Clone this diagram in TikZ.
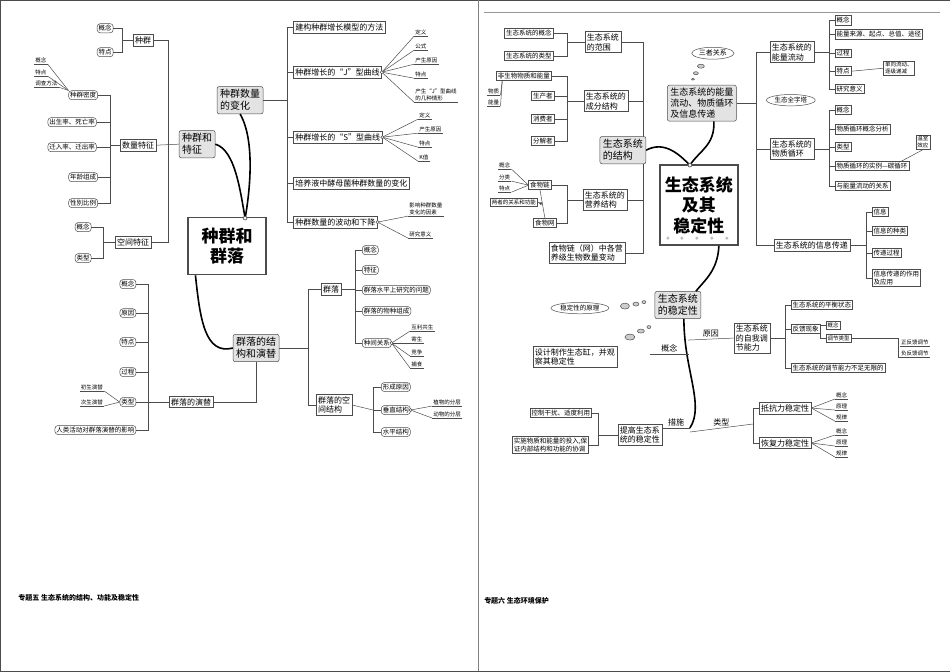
\documentclass[tikz,border=0pt]{standalone}
\usepackage{fontspec}
\setmainfont{Noto Sans CJK SC}
\usetikzlibrary{shapes.geometric,calc,shapes.misc}
\newcommand\myfs[1]{\fontsize{#1pt}{1.2\dimexpr #1pt\relax}\selectfont}
\begin{document}
\begin{tikzpicture}[x=1pt,y=-1pt,
 bx/.style={draw, fill=white, inner sep=2pt, font=\myfs{8}, align=left},
 sb/.style={draw, fill=white, inner sep=1.5pt, font=\myfs{6.5}, align=left},
 gb/.style={draw, fill=gray!22, rounded corners=2pt, inner sep=3pt, font=\myfs{10}, align=left},
 tb/.style={draw, fill=white, rounded corners=3pt, inner sep=1.5pt, font=\myfs{6.5}},
 lf/.style={inner sep=1pt, font=\myfs{5.5}, align=left, append after command={(\tikzlastnode.south west) edge[draw=black!70] (\tikzlastnode.south east)}},
 ctr/.style={draw, line width=1.4pt, fill=white, font=\bfseries\myfs{17}, align=center},
 el/.style={draw, ellipse, inner sep=1pt, font=\myfs{6.5}},
 bub/.style={draw, ellipse, fill=gray!40, inner sep=0pt},
 thk/.style={line width=1.6pt},
 every path/.style={draw=black!70, line width=0.5pt}]
\useasboundingbox (0,0) rectangle (950,671);
% dividers
\draw[black!50] (478,0) -- (478,671);
\draw[black!40] (484,12) -- (940,12);
\node[anchor=west, font=\bfseries\myfs{7}, inner sep=0] (t5) at (18,598) {专题五\ 生态系统的结构、功能及稳定性};
\node[anchor=west, font=\bfseries\myfs{7}, inner sep=0] (t6) at (484,601) {专题六\ 生态环境保护};

% ================= LEFT =================
\node[ctr, minimum width=78, minimum height=57] (C1) at (227,246) {种群和\\群落};
\node[gb] (tz) at (197,144) {种群和\\特征};
\node[gb] (bh) at (240,100) {种群数量\\的变化};
\node[gb] (jg) at (256,348) {群落的结\\构和演替};
\coordinate (st1) at (245,218);
\draw[thk,black] (tz.east) .. controls (235,150) and (240,190) .. (st1);
\draw[thk,black] (bh.south) .. controls (255,140) and (250,190) .. (st1);
\draw[thk,black] ([xshift=8pt]C1.south west) .. controls (200,320) and (205,355) .. (jg.west);
\node[star, star points=8, fill=white, draw, inner sep=1pt, line width=0.4pt] (sta) at (st1) {};

% 种群和特征 subtree
\node[bx] (zq) at (143,40) {种群};
\node[tb] (zq1) at (105,28) {概念};
\node[tb] (zq2) at (105,52) {特点};
\coordinate (s0) at (122,40);
\draw (zq.west) -- (s0); \draw (zq1.east) -| (s0); \draw (zq2.east) -| (s0);
\node[bx] (sl) at (138,145) {数量特征};
\node[bx] (kj) at (133,242) {空间特征};
\coordinate (s1) at (168,144);
\draw (zq.east) -| (s1); \draw (kj.east) -| (s1); \draw (sl.east) -- (tz.west);
\node[tb] (zm) at (83,95) {种群密度};
\node[tb] (cs) at (72,122) {出生率、死亡率};
\node[tb] (qr) at (72,147) {迁入率、迁出率};
\node[tb] (nl) at (83,177) {年龄组成};
\node[tb] (xb) at (83,203) {性别比例};
\coordinate (s2) at (110,145);
\draw (sl.west) -- (s2);
\foreach \n in {zm,cs,qr,nl,xb} \draw (\n.east) -| (s2);
\node[lf, anchor=south west] (m1) at (34,64) {概念};
\node[lf, anchor=south west] (m2) at (34,76) {特点};
\node[lf, anchor=south west] (m3) at (34,87) {调查方法};
\foreach \n in {m1,m2,m3} \draw (\n.south east) -- (zm.north west);
\node[tb] (kj1) at (83,227) {概念};
\node[tb] (kj2) at (83,258) {类型};
\coordinate (s2b) at (103,242);
\draw (kj.west) -- (s2b); \draw (kj1.east) -| (s2b); \draw (kj2.east) -| (s2b);

% 种群数量的变化 subtree
\coordinate (s3) at (287,100);
\draw (bh.east) -- (s3);
\node[bx, anchor=west] (b1) at (293,27) {建构种群增长模型的方法};
\node[bx, anchor=west] (b2) at (293,72) {种群增长的“J”型曲线};
\node[bx, anchor=west] (b3) at (293,137) {种群增长的“S”型曲线};
\node[bx, anchor=west] (b4) at (293,183) {培养液中酵母菌种群数量的变化};
\node[bx, anchor=west] (b5) at (293,222) {种群数量的波动和下降};
\foreach \n in {b1,b2,b3,b4,b5} \draw (\n.west) -| (s3);
\foreach \t/\y [count=\i] in {定义/36,公式/50,产生原因/64,特点/78} \node[lf, anchor=south west] (j\i) at (414,\y) {\t};
\node[lf, anchor=south west] (j5) at (414,102) {产生“J”型曲线\\的几种情形};
\foreach \i in {1,...,5} \draw (b2.east) -- (j\i.south west);
\draw[fill=white] (b2.east) circle (1.6);
\foreach \t/\y [count=\i] in {定义/119,产生原因/133,特点/147,K值/161} \node[lf, anchor=south west] (k\i) at (418,\y) {\t};
\foreach \i in {1,...,4} \draw (b3.east) -- (k\i.south west);
\draw[fill=white] (b3.east) circle (1.6);
\node[lf, anchor=south west] (w1) at (408,216) {影响种群数量\\变化的因素};
\node[lf, anchor=south west] (w2) at (408,238) {研究意义};
\draw (b5.east) -- (w1.south west); \draw (b5.east) -- (w2.south west);
\draw[fill=white] (b5.east) circle (1.6);

% 群落的结构和演替 subtree
\node[bx] (ql) at (331,289) {群落};
\node[bx] (kjjg) at (334,405) {群落的空\\间结构};
\coordinate (s4) at (308,348);
\draw (jg.east) -- (s4); \draw (ql.west) -| (s4); \draw (kjjg.west) -| (s4);
\coordinate (s5) at (355,289);
\draw (ql.east) -- (s5);
\node[tb, anchor=west] (q1) at (362,250) {概念};
\node[tb, anchor=west] (q2) at (362,270) {特征};
\node[tb, anchor=west] (q3) at (362,290) {群落水平上研究的问题};
\node[tb, anchor=west] (q4) at (362,311) {群落的物种组成};
\node[tb, anchor=west] (q5) at (362,343) {种间关系};
\foreach \n in {q1,q2,q3,q4,q5} \draw (\n.west) -| (s5);
\foreach \t/\y [count=\i] in {互利共生/331,寄生/343,竞争/356,捕食/368} \node[lf, anchor=south west] (r\i) at (410,\y) {\t};
\foreach \i in {1,...,4} \draw (q5.east) -- (r\i.south west);
\draw[fill=white] (q5.east) circle (1.6);
\coordinate (s6) at (373,410);
\draw (kjjg.east) -- (s6);
\node[tb, anchor=west] (p1) at (381,387) {形成原因};
\node[tb, anchor=west] (p2) at (381,410) {垂直结构};
\node[tb, anchor=west] (p3) at (381,432) {水平结构};
\foreach \n in {p1,p2,p3} \draw (\n.west) -| (s6);
\node[lf, anchor=south west] (v1) at (432,406) {植物的分层};
\node[lf, anchor=south west] (v2) at (432,418) {动物的分层};
\draw (p2.east) -- (v1.south west); \draw (p2.east) -- (v2.south west);
\draw[fill=white] (p2.east) circle (1.6);
\node[bx] (yt) at (191,402) {群落的演替};
\draw (jg.south) |- (yt.east);
\coordinate (s7) at (148,402);
\draw (yt.west) -- (s7);
\foreach \t/\y [count=\i] in {概念/284,原因/313,特点/342,过程/372,类型/402} \node[tb, anchor=east] (y\i) at (136,\y) {\t};
\node[tb, anchor=east] (y6) at (136,430) {人类活动对群落演替的影响};
\foreach \i in {1,...,6} \draw (y\i.east) -| (s7);
\node[lf, anchor=south east] (x1) at (104,391) {初生演替};
\node[lf, anchor=south east] (x2) at (104,406) {次生演替};
\draw (x1.south east) -- (y5.west); \draw (x2.south east) -- (y5.west);

% ================= RIGHT =================
\node[ctr, minimum width=78, minimum height=80] (C2) at (699,205) {生态系统\\及其\\稳定性};
\foreach \x in {668,682,697,712,727} \fill[gray!50] (\x,238) circle (1.3);
\coordinate (s10) at (643,150);
\node[bx] (fw) at (603,42) {生态系统\\的范围};
\node[bx] (cf) at (606,101) {生态系统的\\成分结构};
\node[bx] (yy) at (605,200) {生态系统的\\营养结构};
\node[bx, font=\myfs{8}] (bd) at (587,253) {食物链（网）中各营\\养级生物数量变动};
\foreach \n in {fw,cf,yy,bd} \draw (\n.east) -| (s10);
\node[gb] (jgr) at (623,150) {生态系统\\的结构};
\node[gb, font=\myfs{9}] (nl2) at (702,103) {生态系统的能量\\流动、物质循环\\及信息传递};
\coordinate (st2) at (690,165);
\draw[thk,black] (jgr.east) .. controls (665,140) and (680,155) .. (st2);
\draw[thk,black] ([xshift=12pt]nl2.south) .. controls (715,145) and (700,150) .. (st2);
\node[star, star points=8, fill=white, draw, inner sep=1pt, line width=0.4pt] (stb) at (st2) {};
\node[el, font=\myfs{7}] (sz) at (713,53) {三者关系};
\node[bub, minimum width=7, minimum height=4] (bb1) at (701,66) {};
\node[bub, minimum width=5, minimum height=3] (bb2) at (696,73) {};
\node[bub, minimum width=3, minimum height=2] (bb3) at (693,79) {};

\coordinate (s11) at (567,42);
\node[sb] (fw1) at (529,33) {生态系统的概念};
\node[sb] (fw2) at (529,56) {生态系统的类型};
\draw (fw.west) -- (s11); \draw (fw1.east) -| (s11); \draw (fw2.east) -| (s11);
\coordinate (s12) at (567,101);
\node[sb] (cf1) at (524,76) {非生物物质和能量};
\node[sb] (cf2) at (543,96) {生产者};
\node[sb] (cf3) at (543,119) {消费者};
\node[sb] (cf4) at (543,141) {分解者};
\draw (cf.west) -- (s12);
\foreach \n in {cf1,cf2,cf3,cf4} \draw (\n.east) -| (s12);
\node[lf, anchor=south west] (wz) at (487,95) {物质};
\node[lf, anchor=south west] (nlg) at (487,106) {能量};
\draw (wz.south east) -- ([xshift=6pt]cf1.south west); \draw (nlg.south east) -- ([xshift=6pt]cf1.south west);
\coordinate (s13) at (567,200);
\node[sb] (sl2) at (540,185) {食物链};
\node[sb] (sw) at (545,223) {食物网};
\draw (yy.west) -- (s13); \draw (sl2.east) -| (s13); \draw (sw.east) -| (s13);
\draw (sl2.south) -- (sw.north);
\node[sb, font=\myfs{5.5}] (lz) at (514,202) {两者的关系和功能};
\draw[-latex] ($(sl2.south)!0.5!(sw.north)$) -- (lz.east);
\node[lf, anchor=south west] (l1) at (498,169) {概念};
\node[lf, anchor=south west] (l2) at (498,181) {分类};
\node[lf, anchor=south west] (l3) at (498,192) {特点};
\foreach \n in {l1,l2,l3} \draw (\n.south east) -- (sl2.west);

\coordinate (s14) at (756,103);
\draw (nl2.east) -- (s14);
\node[bx] (e1) at (792,52) {生态系统的\\能量流动};
\node[bx] (e2) at (792,149) {生态系统的\\物质循环};
\node[bx] (e3) at (812,245) {生态系统的信息传递};
\foreach \n in {e1,e2,e3} \draw (\n.west) -| (s14);
\coordinate (s15) at (829,52);
\draw (e1.east) -- (s15);
\node[sb, anchor=west] (f1) at (835,20) {概念};
\node[sb, anchor=west] (f2) at (835,34) {能量来源、起点、总值、途径};
\node[sb, anchor=west] (f3) at (835,53) {过程};
\node[sb, anchor=west] (f4) at (835,71) {特点};
\node[sb, anchor=west] (f5) at (835,89) {研究意义};
\foreach \n in {f1,f2,f3,f4,f5} \draw (\n.west) -| (s15);
\node[sb, font=\myfs{5.5}] (dx) at (899,68) {单向流动、\\逐级递减};
\draw (f4.east) -- (dx.west);
\node[el] (jzt) at (791,100) {生态全字塔};
\coordinate (s16) at (829,149);
\draw (e2.east) -- (s16);
\node[sb, anchor=west] (g1) at (835,110) {概念};
\node[sb, anchor=west] (g2) at (835,129) {物质循环概念分析};
\node[sb, anchor=west] (g3) at (835,147) {类型};
\node[sb, anchor=west] (g4) at (835,166) {物质循环的实例—碳循环};
\node[sb, anchor=west] (g5) at (835,186) {与能量流动的关系};
\foreach \n in {g1,g2,g3,g4,g5} \draw (\n.west) -| (s16);
\node[sb, font=\myfs{5.5}] (ws) at (923,142) {温室\\效应};
\draw (ws.south) -- ([xshift=-8pt]g4.north east);
\coordinate (s17) at (866,245);
\draw (e3.east) -- (s17);
\node[sb, anchor=west] (h1) at (872,212) {信息};
\node[sb, anchor=west] (h2) at (872,231) {信息的种类};
\node[sb, anchor=west] (h3) at (872,253) {传递过程};
\node[sb, anchor=west] (h4) at (872,278) {信息传递的作用\\及应用};
\foreach \n in {h1,h2,h3,h4} \draw (\n.west) -| (s17);

% stability
\node[gb] (wd) at (678,305) {生态系统\\的稳定性};
\draw[thk,black] ([xshift=20pt]C2.south) .. controls (718,270) and (705,280) .. ([xshift=18pt]wd.north);
\coordinate (cs) at (690,428);
\draw[thk,black] ([xshift=6pt]wd.south) .. controls (684,370) and (705,405) .. (cs);
\node[el] (yl) at (580,308) {稳定性的原理};
\node[bub, minimum width=9, minimum height=6] (bc1) at (625,306) {};
\node[bub, minimum width=6, minimum height=4] (bc2) at (636,304) {};
\node[bub, minimum width=4, minimum height=3] (bc3) at (644,302) {};
\node[bx] (sj) at (575,357) {设计制作生态缸，并观\\察其稳定性};
\node[bub, minimum width=10, minimum height=6] (bd1) at (630,337) {};
\node[bub, minimum width=7, minimum height=4] (bd2) at (641,331) {};
\node[bub, minimum width=4, minimum height=3] (bd3) at (649,327) {};
\coordinate (c1) at (688,340);
\coordinate (c2) at (650,354);
\coordinate (c3) at (689,354);
\node[bx] (zw) at (752,338) {生态系统\\的自我调\\节能力};
\draw (c1) -- node[above, font=\myfs{8}, inner sep=1.5pt] {原因} (zw.west);
\draw (c2) -- node[above, font=\myfs{8}, inner sep=1.5pt] {概念} (c3);
\coordinate (s18) at (785,338);
\draw (zw.east) -- (s18);
\node[sb, anchor=west] (z1) at (791,305) {生态系统的平衡状态};
\node[sb, anchor=west] (z2) at (791,329) {反馈现象};
\node[sb, anchor=west] (z3) at (791,368) {生态系统的调节能力不足无限的};
\foreach \n in {z1,z2,z3} \draw (\n.west) -| (s18);
\coordinate (s19) at (820,329);
\draw (z2.east) -- (s19);
\node[sb, anchor=west, font=\myfs{5.5}] (z21) at (826,325) {概念};
\node[sb, anchor=west, font=\myfs{5.5}] (z22) at (826,338) {调节类型};
\draw (z21.west) -| (s19); \draw (z22.west) -| (s19);
\node[lf, anchor=south west] (u1) at (900,346) {正反馈调节};
\node[lf, anchor=south west] (u2) at (900,357) {负反馈调节};
\draw (z22.east) -| ([xshift=-2pt]u1.south west) |- (u2.south west);
\node[bx] (tg) at (640,435) {提高生态系\\统的稳定性};
\draw (tg.east |- cs) -- node[above, font=\myfs{8}, inner sep=1.5pt] {措施} (cs);
\coordinate (s20) at (598,435);
\draw (tg.west) -- (s20);
\node[sb, anchor=east] (k1) at (592,413) {控制干扰、适度利用};
\node[sb, anchor=east] (k2) at (589,445) {实施物质和能量的投入,保\\证内部结构和功能的协调};
\draw (k1.east) -| (s20); \draw (k2.east) -| (s20);
\coordinate (s21) at (753,424);
\draw ([yshift=-4pt]cs) -- node[above, font=\myfs{8}, inner sep=1.5pt] {类型} (s21);
\node[bx, anchor=west] (dk) at (759,408) {抵抗力稳定性};
\node[bx, anchor=west] (hf) at (759,443) {恢复力稳定性};
\draw (dk.west) -| (s21); \draw (hf.west) -| (s21);
\foreach \t/\y [count=\i] in {概念/399,原理/410,规律/421} \node[lf, anchor=south west] (dd\i) at (835,\y) {\t};
\foreach \i in {1,2,3} \draw (dk.east) -- (dd\i.south west);
\foreach \t/\y [count=\i] in {概念/435,原理/446,规律/457} \node[lf, anchor=south west] (hh\i) at (835,\y) {\t};
\foreach \i in {1,2,3} \draw (hf.east) -- (hh\i.south west);
\end{tikzpicture}
\end{document}
